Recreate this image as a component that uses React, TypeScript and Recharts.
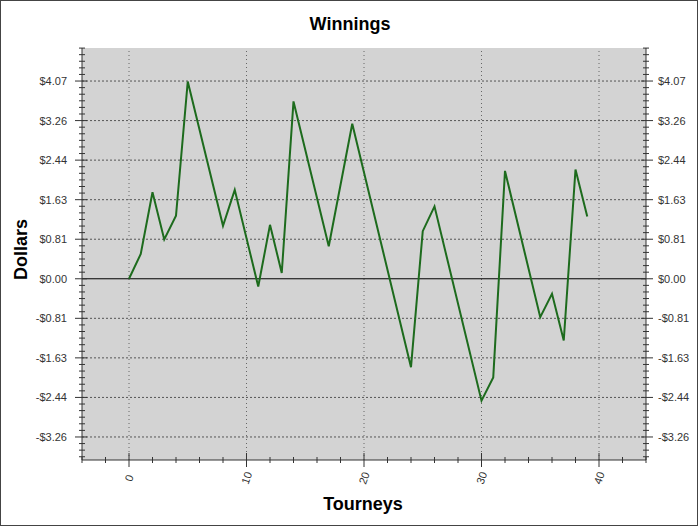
import React from "react";
import {
  LineChart,
  Line,
  XAxis,
  YAxis,
  CartesianGrid,
  ReferenceLine,
} from "recharts";

// Tourney index (x) and cumulative winnings in dollars (y)
const tourneys = [0, 1, 2, 3, 4, 5, 8, 9, 11, 12, 13, 14, 17, 19, 24, 25, 26, 30, 31, 32, 35, 36, 37, 38, 39];
const dollars = [0, 0.51, 1.78, 0.81, 1.3, 4.06, 1.09, 1.83, -0.16, 1.11, 0.12, 3.65, 0.67, 3.19, -1.82, 0.98, 1.49, -2.51, -2.03, 2.22, -0.79, -0.31, -1.27, 2.25, 1.28];

const yMajorTicks = [-3.256, -2.442, -1.628, -0.814, 0, 0.814, 1.628, 2.442, 3.256, 4.07];
const xMajorTicks = [0, 10, 20, 30, 40];
const xDomain: [number, number] = [-4, 44];
const yDomain: [number, number] = [-3.73, 4.75];

const data = tourneys.map((t, i) => ({ t, v: dollars[i] }));

const yStep = 0.814 / 6;
const yAllTicks: number[] = [];
for (let k = -27; k <= 35; k++) yAllTicks.push(+(k * yStep).toFixed(4));
const xAllTicks: number[] = [];
for (let k = -2; k <= 22; k++) xAllTicks.push(k * 2);

const isMajorY = (v: number) => yMajorTicks.some((m) => Math.abs(m - v) < 0.01);
const isMajorX = (v: number) => xMajorTicks.includes(v);
const fmtDollar = (v: number) => (v < -0.001 ? "-$" : "$") + Math.abs(v).toFixed(2);

const AXIS = "#333";
const FONT = "Arial, 'Liberation Sans', sans-serif";

const LeftTick = (p: any) => {
  const { x, y, payload } = p;
  const major = isMajorY(payload.value);
  return (
    <g>
      <line x1={major ? x - 7 : x - 3} x2={major ? x + 5 : x + 3} y1={y} y2={y} stroke={AXIS} />
      {major && (
        <text x={x - 15} y={y} dy={4} textAnchor="end" fontSize={11} fill="#333" fontFamily={FONT}>
          {fmtDollar(payload.value)}
        </text>
      )}
    </g>
  );
};

const RightTick = (p: any) => {
  const { x, y, payload } = p;
  const major = isMajorY(payload.value);
  return (
    <g>
      <line x1={major ? x - 5 : x - 3} x2={major ? x + 7 : x + 3} y1={y} y2={y} stroke={AXIS} />
      {major && (
        <text x={x + 12} y={y} dy={4} textAnchor="start" fontSize={11} fill="#333" fontFamily={FONT}>
          {fmtDollar(payload.value)}
        </text>
      )}
    </g>
  );
};

const BottomTick = (p: any) => {
  const { x, y, payload } = p;
  const major = isMajorX(payload.value);
  return (
    <g>
      <line x1={x} x2={x} y1={major ? y - 7 : y - 3} y2={major ? y + 7 : y + 3} stroke={AXIS} />
      {major && (
        <text
          x={x}
          y={y + 18}
          textAnchor="middle"
          dy={4}
          fontSize={11}
          fill="#333"
          fontFamily={FONT}
          transform={`rotate(-70 ${x} ${y + 18})`}
        >
          {payload.value}
        </text>
      )}
    </g>
  );
};

const TopTick = (p: any) => {
  const { x, y, payload } = p;
  const major = isMajorX(payload.value);
  return <line x1={x} x2={x} y1={y} y2={major ? y + 6 : y + 4} stroke={AXIS} />;
};

export default function App() {
  return (
    <div
      style={{
        position: "absolute",
        left: 0,
        top: 0,
        width: 700,
        height: 527,
        background: "#fff",
        fontFamily: FONT,
      }}
    >
      <div
        style={{
          position: "absolute",
          left: 0,
          top: 0,
          width: 696,
          height: 524,
          border: "1px solid #444",
          pointerEvents: "none",
          zIndex: 2,
        }}
      />
      <LineChart
        width={700}
        height={527}
        data={data}
        margin={{ top: 48, right: 0, bottom: 0, left: 10 }}
      >
        <CartesianGrid
          xAxisId="bottom"
          yAxisId="left"
          horizontal={false}
          vertical={false}
          fill="#d3d3d3"
          fillOpacity={1}
        />
        {yMajorTicks
          .filter((v) => v !== 0)
          .map((v) => (
            <ReferenceLine
              key={"h" + v}
              y={v}
              xAxisId="bottom"
              yAxisId="left"
              stroke="#555"
              strokeDasharray="2 2"
            />
          ))}
        {xMajorTicks.map((v) => (
          <ReferenceLine
            key={"v" + v}
            x={v}
            xAxisId="bottom"
            yAxisId="left"
            stroke="#666"
            strokeDasharray="1 3"
          />
        ))}
        <ReferenceLine y={0} xAxisId="bottom" yAxisId="left" stroke="#000" strokeWidth={1} />
        <XAxis
          xAxisId="bottom"
          dataKey="t"
          type="number"
          domain={xDomain}
          allowDataOverflow
          ticks={xAllTicks}
          interval={0}
          height={67}
          tickSize={0}
          tickMargin={0}
          tickLine={false}
          axisLine={{ stroke: AXIS }}
          tick={<BottomTick />}
        />
        <XAxis
          xAxisId="top"
          orientation="top"
          dataKey="t"
          type="number"
          domain={xDomain}
          allowDataOverflow
          ticks={xAllTicks}
          interval={0}
          height={0}
          tickSize={0}
          tickMargin={0}
          tickLine={false}
          axisLine={{ stroke: AXIS }}
          tick={<TopTick />}
        />
        <YAxis
          yAxisId="left"
          type="number"
          domain={yDomain}
          allowDataOverflow
          ticks={yAllTicks}
          interval={0}
          width={72}
          tickSize={0}
          tickMargin={0}
          tickLine={false}
          axisLine={{ stroke: AXIS }}
          tick={<LeftTick />}
        />
        <YAxis
          yAxisId="right"
          orientation="right"
          type="number"
          domain={yDomain}
          allowDataOverflow
          ticks={yAllTicks}
          interval={0}
          width={54}
          tickSize={0}
          tickMargin={0}
          tickLine={false}
          axisLine={{ stroke: AXIS }}
          tick={<RightTick />}
        />
        <Line
          xAxisId="bottom"
          yAxisId="left"
          dataKey="v"
          type="linear"
          stroke="#1d6b1d"
          strokeWidth={2}
          dot={false}
          activeDot={false}
          isAnimationActive={false}
        />
      </LineChart>
      <div
        style={{
          position: "absolute",
          left: 0,
          width: 700,
          top: 14,
          textAlign: "center",
          fontSize: 18,
          fontWeight: "bold",
          color: "#000",
        }}
      >
        Winnings
      </div>
      <div
        style={{
          position: "absolute",
          left: 363 - 100,
          width: 200,
          top: 494,
          textAlign: "center",
          fontSize: 18,
          fontWeight: "bold",
          color: "#000",
        }}
      >
        Tourneys
      </div>
      <div
        style={{
          position: "absolute",
          left: 21 - 100,
          width: 200,
          top: 250 - 11,
          textAlign: "center",
          fontSize: 18,
          fontWeight: "bold",
          color: "#000",
          transform: "rotate(-90deg)",
        }}
      >
        Dollars
      </div>
    </div>
  );
}
